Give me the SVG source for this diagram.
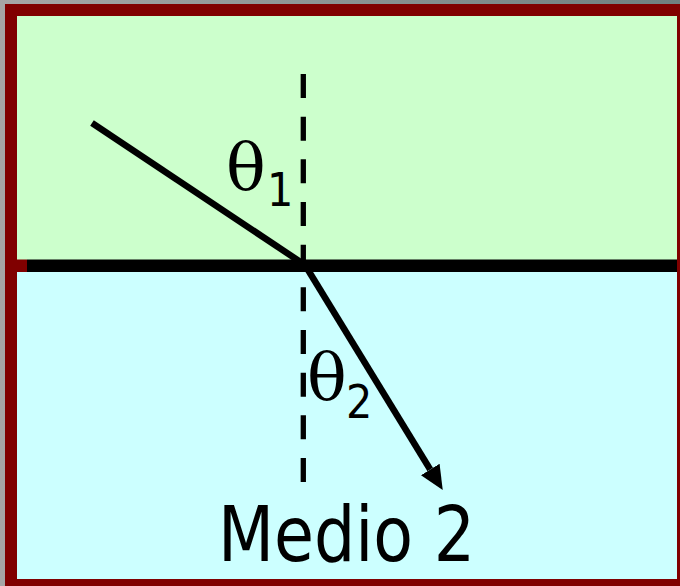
<svg xmlns="http://www.w3.org/2000/svg" width="680" height="586" viewBox="0 0 680 586">
  <defs>
    <linearGradient id="bg" x1="0" y1="0" x2="1" y2="0">
      <stop offset="0" stop-color="#a6a6a6"/>
      <stop offset="1" stop-color="#6f7f7f"/>
    </linearGradient>
    <marker id="arrow" markerUnits="userSpaceOnUse" markerWidth="24" markerHeight="22" refX="0" refY="11" orient="auto">
      <path d="M0,0 L24,11 L0,22 z" fill="#000"/>
    </marker>
    <style>
      .ray { stroke: #000; stroke-width: 6.5; fill: none; stroke-linecap: butt; }
      .normal { stroke: #000; stroke-width: 5.3; stroke-dasharray: 24 18.67; fill: none; }
      .theta { font-family: "DejaVu Serif", "Liberation Serif", serif; font-size: 66px; fill: #000; }
      .sub { font-family: "DejaVu Sans Condensed", "DejaVu Sans", sans-serif; font-size: 46px; fill: #000; }
      .label { font-family: "DejaVu Sans Condensed", "DejaVu Sans", sans-serif; font-size: 76px; fill: #000; }
    </style>
  </defs>
  <rect x="0" y="0" width="680" height="586" fill="url(#bg)"/>
  <g id="medio1">
    <rect x="17" y="16" width="660" height="244" fill="#ccffcc"/>
  </g>
  <g id="medio2">
    <rect x="17" y="271" width="660" height="308" fill="#ccffff"/>
  </g>
  <g id="frame">
    <rect x="11" y="10" width="672" height="575" fill="none" stroke="#800000" stroke-width="12"/>
    <rect x="17" y="259.5" width="10" height="12.5" fill="#800000"/>
  </g>
  <g id="interface">
    <line x1="27" y1="265.75" x2="677" y2="265.75" stroke="#000" stroke-width="12.5"/>
  </g>
  <g id="connectors">
    <line class="normal" x1="303.3" y1="74" x2="303.3" y2="482"/>
    <line id="incident" class="ray" x1="92" y1="123" x2="305" y2="265"/>
    <line id="refracted" class="ray" x1="305" y1="265" x2="430.2" y2="469.5" marker-end="url(#arrow)"/>
  </g>
  <g id="theta1">
    <text class="theta" x="226" y="190">θ</text>
    <text class="sub" x="267" y="206">1</text>
  </g>
  <g id="theta2">
    <text class="theta" x="307" y="400">θ</text>
    <text class="sub" x="346" y="418">2</text>
  </g>
  <g id="label-medio2">
    <text class="label" x="218" y="561" textLength="257" lengthAdjust="spacingAndGlyphs">Medio 2</text>
  </g>
</svg>
